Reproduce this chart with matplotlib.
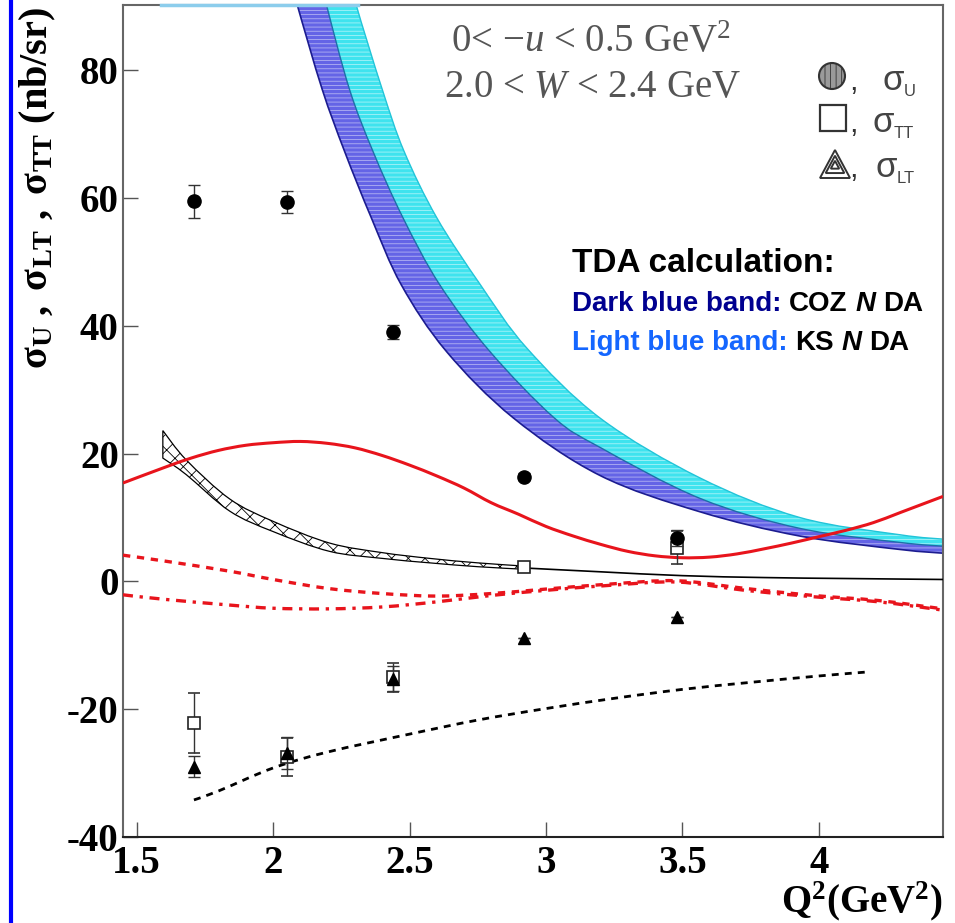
import matplotlib
matplotlib.use('Agg')
import matplotlib.pyplot as plt
import numpy as np
from matplotlib.patches import Ellipse, Polygon, Rectangle, PathPatch
from matplotlib.path import Path
from matplotlib.lines import Line2D
from matplotlib import font_manager

plt.rcParams['font.family'] = ['Liberation Serif', 'DejaVu Serif']
plt.rcParams['axes.unicode_minus'] = False
plt.rcParams['mathtext.fontset'] = 'custom'
plt.rcParams['mathtext.rm'] = 'Liberation Serif'
plt.rcParams['mathtext.it'] = 'Liberation Serif:italic'
plt.rcParams['mathtext.bf'] = 'Liberation Serif:bold'
plt.rcParams['hatch.linewidth'] = 0.6

# ---------------- data ----------------
x_ticks = [1.5, 2.0, 2.5, 3.0, 3.5, 4.0]
x_tick_labels = ['1.5', '2', '2.5', '3', '3.5', '4']
y_ticks = [-40, -20, 0, 20, 40, 60, 80]
y_tick_labels = ['-40', '-20', '0', '20', '40', '60', '80']

x_U = [1.71, 2.05, 2.44, 2.92, 3.48]
y_U = [59.5, 59.4, 39.1, 16.4, 6.8]
e_U = [2.6, 1.7, 1.1, 0.6, 1.3]

x_TT = [1.71, 2.05, 2.44, 2.92, 3.48]
y_TT = [-22.1, -27.5, -15.0, 2.2, 5.3]
e_TT = [4.7, 3.0, 2.3, 0.5, 2.6]

x_LT = [1.71, 2.05, 2.44, 2.92, 3.48]
y_LT = [-29.0, -26.8, -15.2, -8.9, -5.5]
e_LT = [1.6, 2.5, 2.0, 0.0, 0.0]

# TDA bands (edges)
coz_lo_x = [2.08, 2.09, 2.18, 2.262, 2.36, 2.47, 2.635, 2.88, 3.197, 3.564, 3.93, 4.297, 4.46]
coz_lo_y = [92.0, 90.0, 77.0, 67.3, 56.9, 46.4, 36.0, 25.6, 16.6, 10.9, 7.1, 5.0, 4.4]
coz_hi_x = [2.19, 2.197, 2.28, 2.366, 2.476, 2.611, 2.794, 3.03, 3.197, 3.564, 3.93, 4.297, 4.46]
coz_hi_y = [92.0, 90.0, 77.0, 67.3, 56.9, 46.4, 36.0, 25.6, 21.0, 13.0, 8.3, 6.1, 5.5]
ks_hi_x = [2.30, 2.306, 2.40, 2.48, 2.60, 2.76, 2.93, 3.20, 3.564, 3.93, 4.297, 4.46]
ks_hi_y = [92.0, 90.0, 77.0, 67.3, 56.9, 46.4, 36.5, 25.5, 16.2, 10.0, 7.3, 6.6]
top_line_x = [1.59, 2.31]

# black hatched band + tail line
bx = [1.596, 1.682, 1.841, 2.0, 2.207, 2.4, 2.574, 2.75, 2.92]
b_top = [23.6, 19.0, 12.9, 9.4, 6.0, 4.5, 3.6, 2.9, 2.4]
b_bot = [19.3, 16.7, 11.0, 7.8, 4.7, 3.6, 2.9, 2.3, 1.9]
tail_x = [2.92, 3.2, 3.5, 3.8, 4.1, 4.455]
tail_y = [2.1, 1.5, 0.9, 0.6, 0.45, 0.3]

# red curves
red_x = [1.45, 1.6, 1.7, 1.8, 1.9, 2.0, 2.1, 2.2, 2.3, 2.4, 2.5, 2.6, 2.7, 2.8, 2.9,
         3.0, 3.1, 3.2, 3.3, 3.4, 3.5, 3.6, 3.7, 3.8, 3.9, 4.0, 4.1, 4.2, 4.3, 4.455]
red_y = [15.4, 17.8, 19.3, 20.5, 21.3, 21.7, 21.9, 21.6, 20.9, 19.7, 18.2, 16.5, 14.6, 12.3, 10.5,
         8.6, 7.1, 5.8, 4.7, 4.0, 3.7, 3.8, 4.3, 5.1, 6.0, 7.0, 8.0, 9.2, 10.8, 13.3]
red_dash_x = [1.45, 1.6, 1.84, 2.0, 2.2, 2.4, 2.6, 2.8, 3.0, 3.24, 3.48, 3.73, 3.98, 4.22, 4.455]
red_dash_y = [4.1, 3.2, 1.6, 0.3, -1.1, -1.9, -2.3, -1.9, -1.2, -0.4, 0.1, -1.1, -2.2, -3.0, -4.3]
red_dd_x = [1.45, 1.6, 1.84, 2.0, 2.2, 2.4, 2.6, 2.8, 3.0, 3.24, 3.48, 3.73, 3.98, 4.22, 4.455]
red_dd_y = [-2.1, -2.8, -3.7, -4.2, -4.3, -4.0, -3.2, -2.2, -1.4, -0.6, -0.1, -1.4, -2.4, -3.2, -4.5]

# black dashed curve
bd_x = [1.71, 1.8, 2.0, 2.2, 2.5, 2.75, 3.0, 3.25, 3.5, 3.75, 4.0, 4.17]
bd_y = [-34.2, -32.8, -29.2, -26.7, -23.9, -21.7, -19.9, -18.3, -16.9, -15.8, -14.8, -14.2]


# ---------------- helpers: smooth Bezier paths through the read points ----------------
def bez(xs, ys):
    p = np.column_stack([xs, ys]).astype(float)
    n = len(p)
    verts = [p[0]]
    codes = [Path.MOVETO]
    for i in range(n - 1):
        p0 = p[i - 1] if i > 0 else p[i]
        p1, p2 = p[i], p[i + 1]
        p3 = p[i + 2] if i + 2 < n else p[i + 1]
        verts += [p1 + (p2 - p0) / 6.0, p2 - (p3 - p1) / 6.0, p2]
        codes += [Path.CURVE4] * 3
    return verts, codes


def curve_path(xs, ys):
    v, c = bez(xs, ys)
    return Path(v, c)


def band_path(lx, ly, ux, uy):
    v1, c1 = bez(lx, ly)
    v2, c2 = bez(list(ux)[::-1], list(uy)[::-1])
    c2 = [Path.LINETO] + c2[1:]
    v = v1 + v2 + [v1[0]]
    c = c1 + c2 + [Path.CLOSEPOLY]
    return Path(v, c)


# ---------------- figure ----------------
W, H = 955, 923
fig = plt.figure(figsize=(W / 100, H / 100), dpi=100)
fig.patch.set_facecolor('white')
ax = fig.add_axes([123 / W, 1 - 837 / H, (943 - 123) / W, (837 - 5) / H])
ax.set_xlim(1.45, 4.455)
ax.set_ylim(-40, 90.2)


def fx(px):
    return px / W


def fy(py):
    return 1 - py / H


# bands
ks_path = band_path(coz_hi_x, coz_hi_y, ks_hi_x, ks_hi_y)
coz_path = band_path(coz_lo_x, coz_lo_y, coz_hi_x, coz_hi_y)
ax.add_patch(PathPatch(ks_path, facecolor='#3fe3ee', edgecolor='none', zorder=2))
ax.add_patch(PathPatch(ks_path, facecolor='none', edgecolor=(1, 1, 1, 0.55),
                       hatch='----', lw=0, zorder=2.1))
ax.add_patch(PathPatch(coz_path, facecolor='#6464e6', edgecolor='none', zorder=2.2))
ax.add_patch(PathPatch(coz_path, facecolor='none', edgecolor=(1, 1, 1, 0.5),
                       hatch='----', lw=0, zorder=2.3))
ax.add_patch(PathPatch(curve_path(ks_hi_x, ks_hi_y), facecolor='none', edgecolor='#22c4d8',
                       lw=1.0, zorder=2.4))
ax.add_patch(PathPatch(curve_path(coz_hi_x, coz_hi_y), facecolor='none', edgecolor='#1d6fa8',
                       lw=1.0, zorder=2.4))
ax.add_patch(PathPatch(curve_path(coz_lo_x, coz_lo_y), facecolor='none', edgecolor='#1c1c90',
                       lw=1.2, zorder=2.4))
ax.plot(top_line_x, [90.2, 90.2], color='#8ccdec', lw=2.5, clip_on=False, zorder=5)

# black hatched band
bpath = band_path(bx, b_bot, bx, b_top)
ax.add_patch(PathPatch(bpath, facecolor='white', edgecolor='black', hatch='xx', lw=0.9, zorder=3))
ax.add_patch(PathPatch(curve_path(tail_x, tail_y), facecolor='none', edgecolor='black',
                       lw=1.2, zorder=3))

# red curves
ax.add_patch(PathPatch(curve_path(red_x, red_y), facecolor='none', edgecolor='#e8141c',
                       lw=2.2, zorder=4))
ax.add_patch(PathPatch(curve_path(red_dash_x, red_dash_y), facecolor='none', edgecolor='#e8141c',
                       lw=2.4, linestyle=(0, (2.2, 2.0)), zorder=4))
ax.add_patch(PathPatch(curve_path(red_dd_x, red_dd_y), facecolor='none', edgecolor='#e8141c',
                       lw=2.4, linestyle=(0, (3.0, 2.0, 1.0, 2.0)), zorder=4))

# black dashed
ax.add_patch(PathPatch(curve_path(bd_x, bd_y), facecolor='none', edgecolor='black',
                       lw=2.0, linestyle=(0, (2.5, 2.2)), zorder=4))

# data points
ax.errorbar(x_TT, y_TT, yerr=e_TT, fmt='s', ms=8.5, mfc='white', mec='#222222', mew=1.2,
            ecolor='#333333', elinewidth=1.0, capsize=4.5, capthick=1.0, zorder=6)
ax.errorbar(x_LT, y_LT, yerr=e_LT, fmt='^', ms=8, mfc='black', mec='black',
            ecolor='#333333', elinewidth=1.0, capsize=4.5, capthick=1.0, zorder=7)
ax.errorbar(x_U, y_U, yerr=e_U, fmt='o', ms=9.5, mfc='black', mec='black',
            ecolor='#333333', elinewidth=1.0, capsize=4.5, capthick=1.0, zorder=8)

# axes styling
for side in ['left', 'top', 'right']:
    ax.spines[side].set_color('#666666')
    ax.spines[side].set_linewidth(1.5)
ax.spines['bottom'].set_color('#222222')
ax.spines['bottom'].set_linewidth(1.5)
ax.set_xticks(x_ticks)
ax.set_xticklabels(x_tick_labels, fontsize=28, fontweight='bold')
ax.set_yticks(y_ticks)
ax.set_yticklabels(y_tick_labels, fontsize=28, fontweight='bold')
ax.tick_params(axis='both', direction='in', length=11, width=1.0, color='#555555')
ax.tick_params(axis='x', pad=6)
ax.tick_params(axis='y', pad=3)

# axis titles
fig.text(fx(38), fy(188), r'$\mathbf{\sigma_{U}\ ,\ \sigma_{LT}\ ,\ \sigma_{TT}}$ (nb/sr)',
         rotation=90, ha='center', va='center', fontsize=29, fontweight='bold')
fig.text(fx(943), fy(912), r'$\mathbf{Q^{2}(GeV^{2})}$', ha='right', va='baseline', fontsize=28)

# kinematics text
fig.text(fx(591), fy(52), r'0< $-u$ < 0.5 GeV$^2$', ha='center', va='baseline',
         fontsize=28, color='#555555')
fig.text(fx(592), fy(97), r'2.0 < $W$ < 2.4 GeV', ha='center', va='baseline',
         fontsize=28, color='#555555')

# legend block
lg = '#333333'
fig.add_artist(Ellipse((fx(832), fy(76)), 26 / W, 26 / H, transform=fig.transFigure,
                       facecolor='#9a9a9a', edgecolor=lg, lw=1.5, hatch='|||'))
fig.add_artist(Rectangle((fx(820), fy(131)), 26 / W, 26 / H, transform=fig.transFigure,
                         facecolor='white', edgecolor=lg, lw=1.6))
for s in [1.0, 0.62, 0.28]:
    cx, cy, hw, hh = 835, 165, 15 * s, 13 * s
    tri = [(fx(cx - hw), fy(cy + hh)), (fx(cx + hw), fy(cy + hh)), (fx(cx), fy(cy - hh - 2 * s))]
    fig.add_artist(Polygon(tri, closed=True, transform=fig.transFigure,
                           facecolor='white' if s == 1.0 else 'none', edgecolor=lg, lw=1.4))
sans = ['Liberation Sans', 'DejaVu Sans']
for (ypx, sub, xs) in [(90, 'U', 882), (132, 'TT', 872), (177, 'LT', 875)]:
    fig.text(fx(849), fy(ypx), ',', fontsize=22, color=lg, family=sans, va='baseline')
    fig.text(fx(xs), fy(ypx), 'σ', fontsize=25, color='#444444', family=sans, va='baseline')
    fig.text(fx(xs + 22), fy(ypx + 6), sub, fontsize=12, color='#444444', family=sans,
             va='baseline')

# TDA text block
names = {f.name for f in font_manager.fontManager.ttflist}
if 'Liberation Sans Narrow' in names:
    nfam, nsize = ['Liberation Sans Narrow', 'Liberation Sans'], 23
else:
    nfam, nsize = ['Liberation Sans', 'DejaVu Sans'], 20

fig.text(fx(572), fy(272), 'TDA calculation:', fontsize=24, fontweight='bold',
         family=sans, va='baseline')


def chain(ypx, pieces):
    first = pieces[0]
    prev = fig.text(fx(572), fy(ypx), first[0], fontsize=nsize, fontweight='bold',
                    family=nfam, color=first[1], style=first[2], va='baseline')
    for txt, col, sty, gap in pieces[1:]:
        prev = ax.annotate(txt, xy=(1, 0), xycoords=prev, xytext=(gap, 0),
                           textcoords='offset points', fontsize=nsize, fontweight='bold',
                           family=nfam, color=col, style=sty, va='bottom', ha='left',
                           annotation_clip=False)


chain(311, [('Dark blue band:', '#000090', 'normal', 0),
            ('COZ', 'black', 'normal', 5.5),
            ('N', 'black', 'italic', 5.5),
            ('DA', 'black', 'normal', 5.5)])
chain(350, [('Light blue band:', '#1466ff', 'normal', 0),
            ('KS', 'black', 'normal', 5.5),
            ('N', 'black', 'italic', 5.5),
            ('DA', 'black', 'normal', 5.5)])

# blue slide bar on the left
fig.add_artist(Line2D([fx(10.5), fx(10.5)], [0, 1], color='#0000ff', lw=3.0,
                      transform=fig.transFigure))

fig.savefig('out.png', dpi=100, facecolor='white')
